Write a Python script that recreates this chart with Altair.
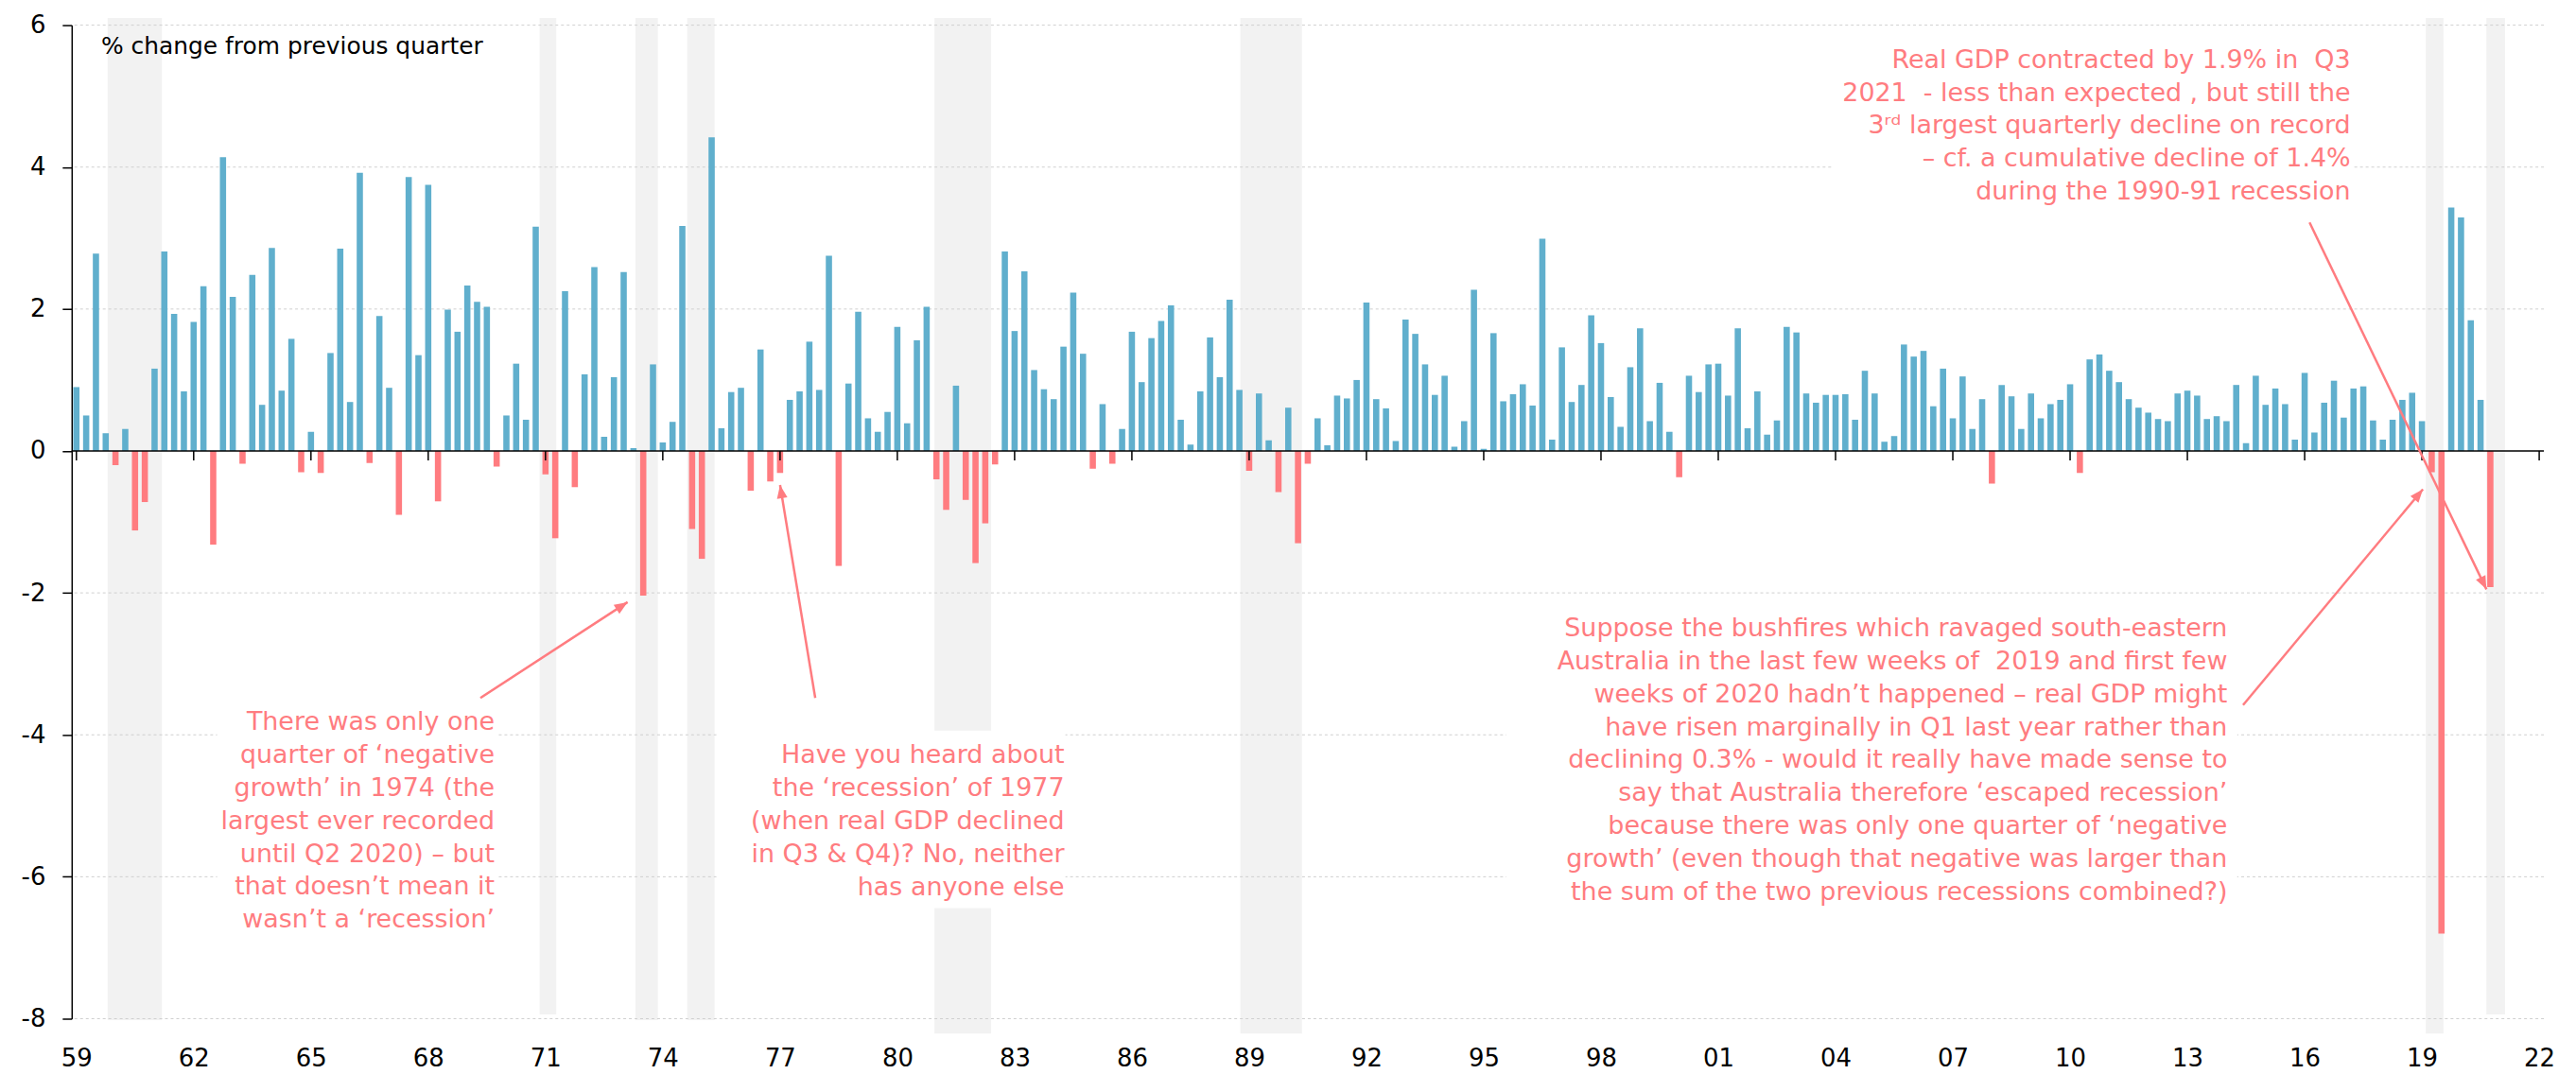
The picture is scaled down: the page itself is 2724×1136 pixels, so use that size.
import math
import altair as alt
import pandas as pd

# ---------------- data ----------------
# Quarterly % change in real GDP, first bar = Dec quarter 1959, last = Sep quarter 2021
growth = [
    0.90, 0.50, 2.78, 0.25, -0.20, 0.31, -1.12, -0.72, 1.16, 2.81,
    1.93, 0.84, 1.82, 2.32, -1.32, 4.14, 2.17, -0.18, 2.48, 0.65,
    2.86, 0.85, 1.58, -0.30, 0.27, -0.31, 1.38, 2.85, 0.69, 3.92,
    -0.17, 1.90, 0.89, -0.90, 3.86, 1.35, 3.75, -0.71, 1.99, 1.68,
    2.33, 2.10, 2.03, -0.22, 0.50, 1.23, 0.44, 3.16, -0.33, -1.23,
    2.25, -0.51, 1.08, 2.59, 0.20, 1.04, 2.52, 0.04, -2.04, 1.22,
    0.12, 0.41, 3.17, -1.10, -1.52, 4.42, 0.32, 0.83, 0.89, -0.56,
    1.43, -0.43, -0.31, 0.72, 0.84, 1.54, 0.86, 2.75, -1.62, 0.95,
    1.96, 0.46, 0.27, 0.55, 1.75, 0.39, 1.56, 2.03, -0.40, -0.83,
    0.92, -0.69, -1.58, -1.02, -0.19, 2.81, 1.69, 2.53, 1.14, 0.87,
    0.73, 1.47, 2.23, 1.37, -0.25, 0.66, -0.18, 0.31, 1.68, 0.97,
    1.59, 1.83, 2.05, 0.44, 0.09, 0.84, 1.60, 1.04, 2.13, 0.86,
    -0.28, 0.81, 0.15, -0.58, 0.61, -1.30, -0.18, 0.46, 0.08, 0.78,
    0.74, 1.00, 2.09, 0.73, 0.60, 0.14, 1.85, 1.65, 1.22, 0.79,
    1.06, 0.06, 0.42, 2.27, 0.03, 1.66, 0.70, 0.80, 0.94, 0.64,
    2.99, 0.16, 1.46, 0.69, 0.93, 1.91, 1.52, 0.76, 0.34, 1.18,
    1.73, 0.42, 0.96, 0.27, -0.37, 1.06, 0.83, 1.22, 1.23, 0.78,
    1.73, 0.32, 0.84, 0.23, 0.43, 1.75, 1.67, 0.81, 0.68, 0.79,
    0.79, 0.80, 0.44, 1.13, 0.81, 0.13, 0.21, 1.50, 1.33, 1.41,
    0.63, 1.16, 0.46, 1.05, 0.31, 0.73, -0.46, 0.93, 0.77, 0.31,
    0.81, 0.46, 0.66, 0.72, 0.94, -0.31, 1.29, 1.36, 1.13, 0.97,
    0.73, 0.61, 0.54, 0.45, 0.42, 0.81, 0.85, 0.78, 0.45, 0.49,
    0.42, 0.93, 0.11, 1.06, 0.65, 0.88, 0.66, 0.16, 1.10, 0.26,
    0.68, 0.99, 0.47, 0.88, 0.91, 0.43, 0.16, 0.44, 0.72, 0.82,
    0.42, -0.30, -6.80, 3.43, 3.29, 1.84, 0.72, -1.92,
]

tick_labels = ["59", "62", "65", "68", "71", "74", "77", "80", "83", "86", "89",
               "92", "95", "98", "01", "04", "07", "10", "13", "16", "19", "22"]
QUARTERS_PER_TICK = 12

# recession shading (in quarter-index units)
rec_start = [3.2, 47.4, 57.2, 62.5, 87.8, 119.1, 240.4, 246.6]
rec_end = [8.75, 49.1, 59.5, 65.3, 93.6, 125.4, 242.2, 248.5]
rec_bottom = [-8.02, -7.94, -8.02, -8.02, -8.21, -8.21, -8.21, -7.94]
rec_top = 6.1

grid_values = [6, 4, 2, -2, -4, -6, -8]
y_tick_values = [6, 4, 2, 0, -2, -4, -6, -8]

NB = "\u00a0"
ann_texts = [
    "Real GDP contracted by 1.9% in " + NB + "Q3\n2021 " + NB + "- less than expected , but still the\n3\u02b3\u1d48 largest quarterly decline on record\n\u2013 cf. a cumulative decline of 1.4%\nduring the 1990-91 recession",
    "Suppose the bushfires which ravaged south-eastern\nAustralia in the last few weeks of " + NB + "2019 and first few\nweeks of 2020 hadn\u2019t happened \u2013 real GDP might\nhave risen marginally in Q1 last year rather than\ndeclining 0.3% - would it really have made sense to\nsay that Australia therefore \u2018escaped recession\u2019\nbecause there was only one quarter of \u2018negative\ngrowth\u2019 (even though that negative was larger than\nthe sum of the two previous recessions combined?)",
    "There was only one\nquarter of \u2018negative\ngrowth\u2019 in 1974 (the\nlargest ever recorded\nuntil Q2 2020) \u2013 but\nthat doesn\u2019t mean it\nwasn\u2019t a \u2018recession\u2019",
    "Have you heard about\nthe \u2018recession\u2019 of 1977\n(when real GDP declined\nin Q3 & Q4)? No, neither\nhas anyone else",
]
ann_x = [232.7, 220.1, 42.8, 101.1]      # right edge (quarter index)
ann_y = [5.40, -2.61, -3.93, -4.40]     # first baseline (% value)

# white boxes behind the notes
box_x0 = [179.75, 146.3, 14.4, 65.5]
box_x1 = [232.9, 221.1, 43.1, 101.2]
box_y0 = [5.75, -2.27, -3.55, -3.94]
box_y1 = [3.35, -6.48, -6.88, -6.44]

# arrows: tail -> head
arr_x0 = [41.34, 75.6, 228.5, 221.7]
arr_y0 = [-3.48, -3.48, 3.22, -3.58]
arr_x1 = [56.4, 72.0, 246.6, 240.1]
arr_y1 = [-2.13, -0.48, -1.95, -0.54]

unit_label = "% change from previous quarter"

# ---------------- styling ----------------
W, H = 2622, 1054
X_MAX = QUARTERS_PER_TICK * (len(tick_labels) - 1)
Y_MIN, Y_MAX = -8, 6
BLUE = "#60AFCD"
RED = "#FF7C80"
SHADE = "#F2F2F2"
FONT = "DejaVu Sans"
AXIS_FONT = "DejaVu Sans"
ANN_SIZE = 27
ANN_LH = 35

xs = alt.Scale(domain=[0, X_MAX], nice=False, zero=False)
ys = alt.Scale(domain=[Y_MIN, Y_MAX], nice=False, zero=False)

label_expr = "[" + ",".join("'%s'" % t for t in tick_labels) + "][round(datum.value/%d)]" % QUARTERS_PER_TICK
tick_index = [i * QUARTERS_PER_TICK for i in range(len(tick_labels))]

x_axis = alt.Axis(values=tick_index, labelExpr=label_expr, domain=False, ticks=False,
                  grid=False, labelPadding=29, labelFontSize=26, labelFont=AXIS_FONT,
                  labelColor="black", labelFlush=False, labelOverlap=False, title=None)
y_axis = alt.Axis(values=y_tick_values, labelExpr="'' + datum.value", grid=False,
                  domainColor="black", domainWidth=1.5, tickColor="black", tickWidth=1.5,
                  tickSize=10, labelPadding=18, labelFontSize=26, labelFont=AXIS_FONT,
                  labelColor="black", title=None)


def X(field):
    return alt.X(field, scale=xs, axis=x_axis)


def Y(field):
    return alt.Y(field, scale=ys, axis=y_axis)


bars_df = pd.DataFrame({"q": list(range(len(growth))), "v": growth})
rec_df = pd.DataFrame({"x0": rec_start, "x1": rec_end, "y0": [rec_top] * len(rec_start), "y1": rec_bottom})
grid_df = pd.DataFrame({"g": grid_values})
zero_df = pd.DataFrame({"z": [0]})
box_df = pd.DataFrame({"x0": box_x0, "x1": box_x1, "y0": box_y0, "y1": box_y1})
tick_df = pd.DataFrame({"t": tick_index, "z": [0] * len(tick_index)})
ann_df = pd.DataFrame({"x": ann_x, "y": ann_y, "text": ann_texts})
label_df = pd.DataFrame({"x": [2.53], "y": [5.595], "text": [unit_label]})

px_x = W / X_MAX
px_y = H / (Y_MAX - Y_MIN)
angles = []
for a, b, c, d in zip(arr_x0, arr_y0, arr_x1, arr_y1):
    dx = (c - a) * px_x
    dy = -(d - b) * px_y
    angles.append(math.degrees(math.atan2(dx, -dy)) % 360)
arr_df = pd.DataFrame({"x0": arr_x0, "y0": arr_y0, "x1": arr_x1, "y1": arr_y1, "ang": angles})

bars = alt.Chart(bars_df).mark_bar(size=6.6).encode(
    x=X("q:Q"), y=Y("v:Q"),
    color=alt.condition("datum.v < 0", alt.value(RED), alt.value(BLUE)))

shade = alt.Chart(rec_df).mark_rect(color=SHADE).encode(
    x=X("x0:Q"), x2="x1:Q", y=Y("y0:Q"), y2="y1:Q")

grid = alt.Chart(grid_df).mark_rule(color="#D0D0D0", strokeDash=[3, 3], strokeWidth=1).encode(
    y=Y("g:Q"))

boxes = alt.Chart(box_df).mark_rect(color="white").encode(
    x=X("x0:Q"), x2="x1:Q", y=Y("y0:Q"), y2="y1:Q")

zero = alt.Chart(zero_df).mark_rule(color="black", strokeWidth=1.5).encode(
    y=Y("z:Q"))

xticks = alt.Chart(tick_df).mark_rule(color="black", strokeWidth=1.5, y2Offset=10).encode(
    x=X("t:Q"), y=Y("z:Q"), y2="z:Q")

notes = alt.Chart(ann_df).mark_text(
    align="right", baseline="alphabetic", lineBreak="\n", fontSize=ANN_SIZE,
    lineHeight=ANN_LH, font=FONT, color=RED).encode(
    x=X("x:Q"), y=Y("y:Q"), text="text:N")

unit = alt.Chart(label_df).mark_text(
    align="left", baseline="alphabetic", fontSize=25, font=FONT, color="black").encode(
    x=X("x:Q"), y=Y("y:Q"), text="text:N")

arrow_lines = alt.Chart(arr_df).mark_rule(color=RED, strokeWidth=2.5).encode(
    x=X("x0:Q"), y=Y("y0:Q"), x2="x1:Q", y2="y1:Q")

arrow_heads = alt.Chart(arr_df).mark_point(
    shape="M0,0L-0.8,2L0.8,2Z", size=196, filled=True, opacity=1, color=RED).encode(
    x=X("x1:Q"), y=Y("y1:Q"),
    angle=alt.Angle("ang:Q", scale=None))

chart = alt.layer(shade, grid, boxes, bars, zero, xticks, notes, unit, arrow_lines, arrow_heads).properties(
    width=W, height=H,
    autosize=alt.AutoSizeParams(type="none"),
    padding={"left": 68, "top": 17, "right": 26, "bottom": 55},
    background="white",
).configure_view(stroke=None)

chart.save("out.html", embed_options={"renderer": "svg", "actions": False})
